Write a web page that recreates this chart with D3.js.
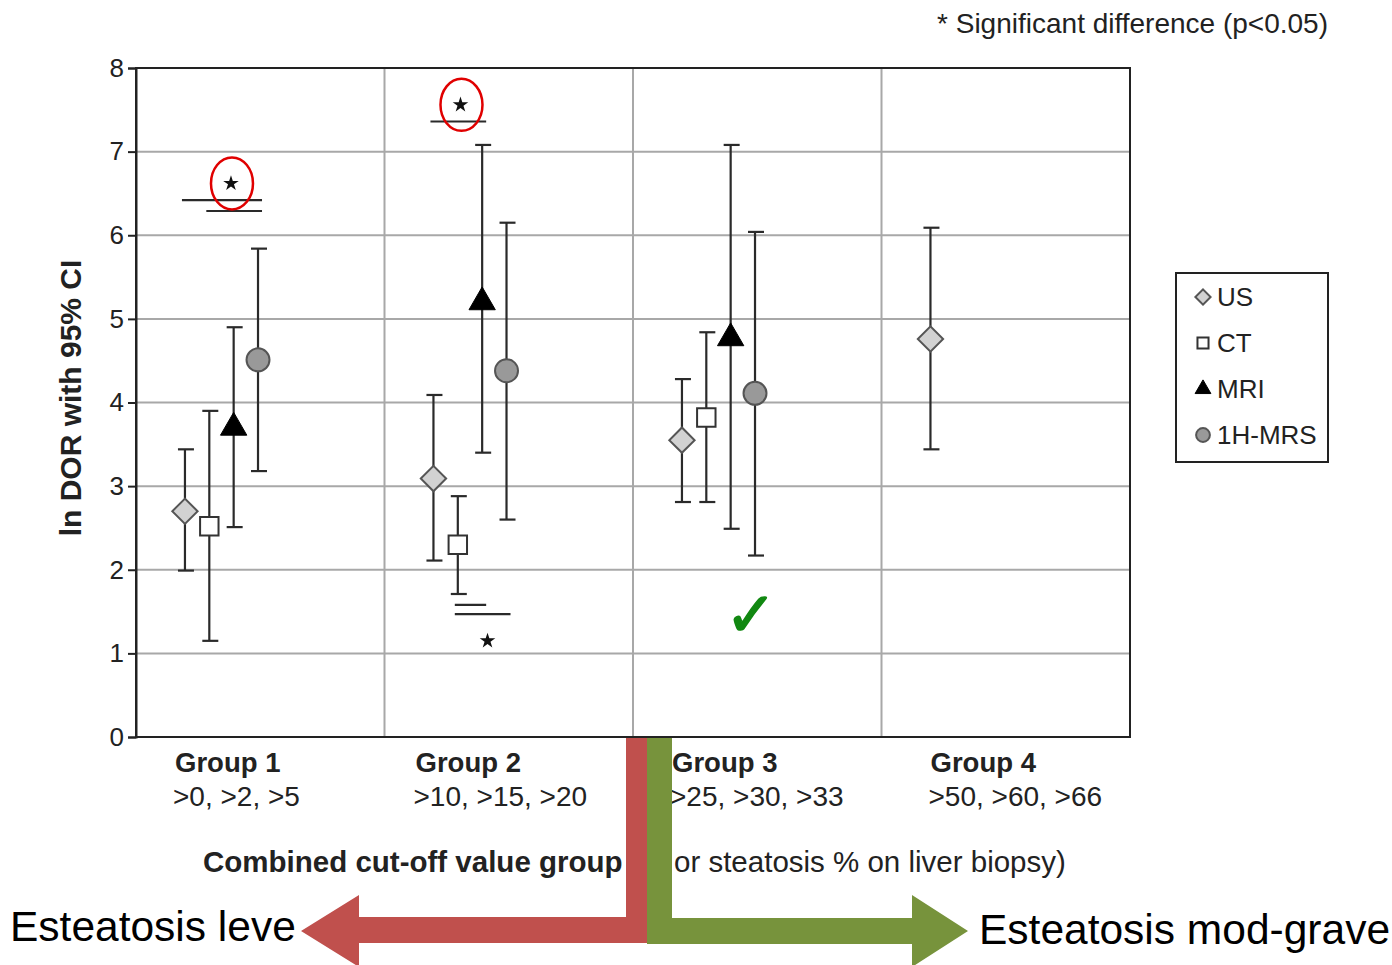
<!DOCTYPE html>
<html><head><meta charset="utf-8">
<script src="https://cdn.jsdelivr.net/npm/d3@7"></script>
<style>
html,body{margin:0;padding:0;background:#fff;}
svg{display:block;font-family:"Liberation Sans",Arial,Helvetica,sans-serif;}
</style></head>
<body>
<svg id="chart" width="1392" height="965"></svg>
<script>
// ---------- data ----------
const groups = ["Group 1", "Group 2", "Group 3", "Group 4"];
const groupCutoffs = [">0, >2, >5", ">10, >15, >20", ">25, >30, >33", ">50, >60, >66"];
const seriesNames = ["US", "CT", "MRI", "1H-MRS"];
const yTicks = [0, 1, 2, 3, 4, 5, 6, 7, 8];

const usValue  = [2.70, 3.09, 3.55, 4.76];
const usLower  = [1.99, 2.11, 2.81, 3.44];
const usUpper  = [3.44, 4.09, 4.28, 6.09];
const ctValue  = [2.52, 2.30, 3.82, null];
const ctLower  = [1.15, 1.71, 2.81, null];
const ctUpper  = [3.90, 2.88, 4.84, null];
const mriValue = [3.70, 5.20, 4.77, null];
const mriLower = [2.51, 3.40, 2.49, null];
const mriUpper = [4.90, 7.08, 7.08, null];
const mrsValue = [4.51, 4.38, 4.11, null];
const mrsLower = [3.18, 2.60, 2.17, null];
const mrsUpper = [5.84, 6.15, 6.04, null];

// significance lines: group index, from series, to series, y value
const sigGroup = [0, 0, 1, 1, 1];
const sigFrom  = ["US", "CT", "US", "CT", "CT"];
const sigTo    = ["1H-MRS", "1H-MRS", "MRI", "MRI", "1H-MRS"];
const sigValue = [6.42, 6.29, 7.36, 1.58, 1.47];
// stars: group index, position (series index units), y value, circled?
const starGroup = [0, 1, 1];
const starPos   = [1.89, 1.11, 2.22];
const starValue = [6.62, 7.56, 1.15];
const starCircled = [true, true, false];

const legendTitle = "* Significant difference (p<0.05)";
const xTitleA = "Combined cut-off value group (f";
const xTitleB = "or steatosis % on liver biopsy)";
const yTitle = "ln DOR with 95% CI";

// ---------- layout ----------
const svg = d3.select("#chart");
const L = 136, R = 1130, T = 68, B = 737;

const x = d3.scaleBand().domain(groups).range([L, R]).padding(0);
const bw = x.bandwidth();
const xi = d3.scaleLinear().domain([0, 3]).range([bw * 0.197, bw * 0.491]);
const y = d3.scaleLinear().domain([0, 8]).range([B, T]);
const sx = (gi, s) => x(groups[gi]) + xi(seriesNames.indexOf(s));

const series = [
  {name: "US", v: usValue, lo: usLower, hi: usUpper},
  {name: "CT", v: ctValue, lo: ctLower, hi: ctUpper},
  {name: "MRI", v: mriValue, lo: mriLower, hi: mriUpper},
  {name: "1H-MRS", v: mrsValue, lo: mrsLower, hi: mrsUpper}
];

// gridlines
const grid = svg.append("g");
grid.selectAll("line.h").data(yTicks.slice(1, -1)).join("line")
  .attr("x1", L).attr("x2", R).attr("y1", d => y(d)).attr("y2", d => y(d))
  .attr("stroke", "#a8a8a8").attr("stroke-width", 2);
grid.selectAll("line.v").data(groups.slice(1)).join("line")
  .attr("x1", d => x(d)).attr("x2", d => x(d)).attr("y1", T).attr("y2", B)
  .attr("stroke", "#a8a8a8").attr("stroke-width", 2);

// frame
svg.append("rect").attr("x", L).attr("y", T).attr("width", R - L).attr("height", B - T)
  .attr("fill", "none").attr("stroke", "#222").attr("stroke-width", 2);

// y axis
const yAxis = svg.append("g").attr("transform", `translate(${L},0)`)
  .call(d3.axisLeft(y).tickValues(yTicks).tickSize(8).tickPadding(4).tickFormat(d3.format("d")));
yAxis.select(".domain").attr("stroke", "#222").attr("stroke-width", 2);
yAxis.selectAll(".tick line").attr("stroke", "#222").attr("stroke-width", 2);
yAxis.selectAll(".tick text").attr("font-size", 26).attr("fill", "#222")
  .attr("font-family", "'Liberation Sans',Arial,sans-serif");

svg.append("text").attr("transform", `translate(81,398) rotate(-90)`)
  .attr("text-anchor", "middle").attr("font-size", 30).attr("font-weight", "bold").attr("fill", "#222")
  .text(yTitle);

// x labels
const gl = svg.append("g");
groups.forEach((g, i) => {
  const gx = x(g) + (i === 3 ? 49 : i === 1 ? 31 : 39);
  gl.append("text").attr("x", gx).attr("y", 772).attr("font-size", 27.5).attr("font-weight", "bold")
    .attr("fill", "#222").text(g);
  gl.append("text").attr("x", gx - 2).attr("y", 806).attr("font-size", 28)
    .attr("fill", "#222").text(groupCutoffs[i]);
});
const xt = svg.append("text").attr("y", 872).attr("font-size", 29.5).attr("fill", "#222");
xt.append("tspan").attr("x", 203).attr("font-weight", "bold").text(xTitleA);
xt.append("tspan").attr("x", 674).attr("font-weight", "normal").text(xTitleB);

// top note
svg.append("text").attr("x", 1328).attr("y", 33).attr("text-anchor", "end")
  .attr("font-size", 28).attr("fill", "#222").text(legendTitle);

// marker shapes
function drawMarker(sel, name, scale) {
  const k = scale || 1;
  if (name === "US") {
    sel.append("path").attr("d", d3.symbol(d3.symbolSquare, 320 * k * k)())
      .attr("transform", "rotate(45)")
      .attr("fill", "#d2d2d2").attr("stroke", "#555").attr("stroke-width", 2);
  } else if (name === "CT") {
    sel.append("path").attr("d", d3.symbol(d3.symbolSquare, 340 * k * k)())
      .attr("fill", "#fff").attr("stroke", "#333").attr("stroke-width", 2);
  } else if (name === "MRI") {
    sel.append("path").attr("d", d3.symbol(d3.symbolTriangle, 300 * k * k)())
      .attr("fill", "#000").attr("stroke", "#000").attr("stroke-width", 1);
  } else {
    sel.append("circle").attr("r", 11.5 * k)
      .attr("fill", "#999").attr("stroke", "#555").attr("stroke-width", 2);
  }
}

// error bars & markers
const marks = svg.append("g");
series.forEach(s => {
  s.v.forEach((v, gi) => {
    if (v == null) return;
    const cx = sx(gi, s.name);
    const g = marks.append("g");
    g.append("line").attr("x1", cx).attr("x2", cx).attr("y1", y(s.lo[gi])).attr("y2", y(s.hi[gi]))
      .attr("stroke", "#2a2a2a").attr("stroke-width", 2.2);
    [s.lo[gi], s.hi[gi]].forEach(e => {
      g.append("line").attr("x1", cx - 7).attr("x2", cx + 9).attr("y1", y(e)).attr("y2", y(e))
        .attr("stroke", "#2a2a2a").attr("stroke-width", 2.2);
    });
    drawMarker(g.append("g").attr("transform", `translate(${cx},${y(v)})`), s.name, 1);
  });
});

// significance lines
sigValue.forEach((v, i) => {
  svg.append("line")
    .attr("x1", sx(sigGroup[i], sigFrom[i]) - 3).attr("x2", sx(sigGroup[i], sigTo[i]) + 4)
    .attr("y1", y(v)).attr("y2", y(v)).attr("stroke", "#2a2a2a").attr("stroke-width", 2.2);
});
starValue.forEach((v, i) => {
  const cx = x(groups[starGroup[i]]) + xi(starPos[i]);
  svg.append("path").attr("d", d3.symbol(d3.symbolStar, 75)())
    .attr("transform", `translate(${cx},${y(v)})`).attr("fill", "#111");
  if (starCircled[i]) {
    svg.append("ellipse").attr("cx", cx + 1).attr("cy", y(v)).attr("rx", 21).attr("ry", 26)
      .attr("fill", "none").attr("stroke", "#e00000").attr("stroke-width", 2.5);
  }
});

// legend
const lg = svg.append("g");
lg.append("rect").attr("x", 1176).attr("y", 273).attr("width", 152).attr("height", 189)
  .attr("fill", "#fff").attr("stroke", "#222").attr("stroke-width", 2);
seriesNames.forEach((n, i) => {
  const ly = 297 + i * 46;
  drawMarker(lg.append("g").attr("transform", `translate(1203,${ly})`), n, 0.6);
  lg.append("text").attr("x", 1217).attr("y", ly + 9).attr("font-size", 26).attr("fill", "#222").text(n);
});

// check mark
svg.append("text").attr("x", 751).attr("y", 636).attr("text-anchor", "middle")
  .attr("font-size", 62).attr("fill", "#118811").attr("stroke", "#118811").attr("stroke-width", 1.5)
  .attr("font-family", "'DejaVu Sans',sans-serif").text("\u2713");

// arrows
const bx = x(groups[2]);
const redC = "#c0504d", greenC = "#77933c";
svg.append("path").attr("fill", redC).attr("d", d3.line()([
  [bx - 7, B + 1], [bx + 14, B + 1], [bx + 14, 943], [359, 943], [359, 967], [301, 931],
  [359, 895], [359, 917], [bx - 7, 917]
]) + "Z");
svg.append("path").attr("fill", greenC).attr("d", d3.line()([
  [bx + 14, B + 1], [bx + 39, B + 1], [bx + 39, 918], [912, 918], [912, 895], [968, 931],
  [912, 967], [912, 944], [bx + 14, 944]
]) + "Z");

svg.append("text").attr("x", 10).attr("y", 941).attr("font-size", 42.5).attr("fill", "#000").text("Esteatosis leve");
svg.append("text").attr("x", 979).attr("y", 944).attr("font-size", 42.5).attr("fill", "#000").text("Esteatosis mod-grave");
</script>
</body></html>
